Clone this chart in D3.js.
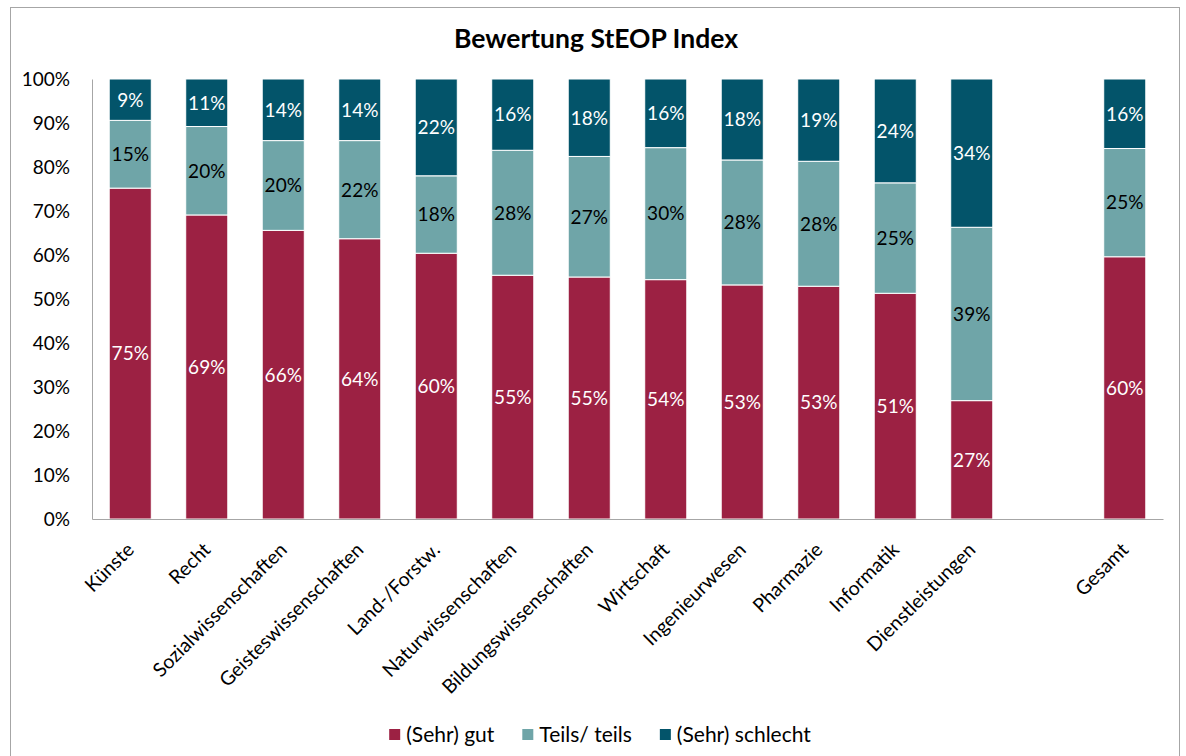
<!DOCTYPE html>
<html lang="de">
<head>
  <meta charset="UTF-8">
  <title>Bewertung StEOP Index</title>
  <script src="https://d3js.org/d3.v7.min.js"></script>
  <style>
    body {
      margin: 0;
      background: #fff;
    }
    svg text {
      font-family: Lato, "Open Sans", sans-serif;
    }
    .tick text {
      font-size: 19px;
      fill: #000;
    }
    .x-axis .tick text {
      font-size: 19.5px;
    }
    .seg-label {
      font-size: 19px;
      text-anchor: middle;
    }
    .legend-label {
      font-size: 21px;
      fill: #000;
    }
  </style>
</head>
<body>
  <svg width="1186" height="756"></svg>

  <script>
    // categories (one empty slot before "Gesamt" like in the original)
    const categories = ["Künste", "Recht", "Sozialwissenschaften", "Geisteswissenschaften",
      "Land-/Forstw.", "Naturwissenschaften", "Bildungswissenschaften", "Wirtschaft",
      "Ingenieurwesen", "Pharmazie", "Informatik", "Dienstleistungen", "Gesamt"];

    // shares in percent
    const gut      = [75.2, 69.1, 65.6, 63.7, 60.4, 55.4, 55.0, 54.4, 53.2, 52.9, 51.3, 26.9, 59.6];
    const teils    = [15.4, 20.1, 20.4, 22.3, 17.6, 28.4, 27.4, 30.0, 28.4, 28.4, 25.1, 39.4, 24.6];
    const schlecht = [ 9.4, 10.8, 14.0, 14.0, 22.0, 16.2, 17.6, 15.6, 18.4, 18.7, 23.6, 33.7, 15.8];

    const seriesNames = ["(Sehr) gut", "Teils/ teils", "(Sehr) schlecht"];
    const colors = ["#9c2143", "#6fa5a8", "#03546a"];
    const labelColors = ["#fff", "#000", "#fff"];
    const yTicks = [0, 10, 20, 30, 40, 50, 60, 70, 80, 90, 100];

    const svg = d3.select("svg");

    // chart frame
    svg.append("rect")
      .attr("x", 10.5).attr("y", 7.5)
      .attr("width", 1169).attr("height", 760)
      .attr("fill", "none")
      .attr("stroke", "#a6a6a6")
      .attr("stroke-width", 1);

    // title
    svg.append("text")
      .attr("x", 596).attr("y", 48)
      .attr("text-anchor", "middle")
      .attr("font-size", 26.5)
      .attr("font-weight", "bold")
      .text("Bewertung StEOP Index");

    const plotLeft = 92, plotRight = 1163, plotTop = 79, plotBottom = 519;

    // band domain with a blank slot between Dienstleistungen and Gesamt
    const domain = categories.slice(0, 12).concat([" ", "Gesamt"]);
    const x = d3.scaleBand()
      .domain(domain)
      .range([plotLeft, plotRight])
      .paddingInner(0.45)
      .paddingOuter(0.225);

    const y = d3.scaleLinear().domain([0, 100]).range([plotBottom, plotTop]);

    // y axis
    const yAxis = svg.append("g")
      .attr("transform", `translate(${plotLeft},0)`)
      .call(d3.axisLeft(y).tickValues(yTicks).tickSize(0).tickPadding(22).tickFormat(d => d + "%"));
    yAxis.select(".domain").attr("stroke", "#a6a6a6");

    // stacked data
    const rows = categories.map((c, i) => ({ cat: c, gut: gut[i], teils: teils[i], schlecht: schlecht[i] }));
    const stack = d3.stack().keys(["gut", "teils", "schlecht"]);
    const stacked = stack(rows);

    const layers = svg.selectAll(".layer")
      .data(stacked)
      .join("g")
      .attr("class", "layer")
      .attr("fill", (d, i) => colors[i]);

    layers.selectAll("rect")
      .data(d => d)
      .join("rect")
      .attr("x", d => x(d.data.cat))
      .attr("y", d => y(d[1]))
      .attr("width", x.bandwidth())
      .attr("height", d => y(d[0]) - y(d[1]))
      .attr("stroke", "#fff")
      .attr("stroke-width", 1);

    // labels in the segments
    layers.each(function (layer, li) {
      d3.select(this).selectAll("text")
        .data(layer)
        .join("text")
        .attr("class", "seg-label")
        .attr("fill", labelColors[li])
        .attr("x", d => x(d.data.cat) + x.bandwidth() / 2)
        .attr("y", d => (y(d[0]) + y(d[1])) / 2)
        .attr("dy", "0.36em")
        .text(d => Math.round(d[1] - d[0]) + "%");
    });

    // x axis
    const xAxis = svg.append("g")
      .attr("class", "x-axis")
      .attr("transform", `translate(0,${plotBottom})`)
      .call(d3.axisBottom(x).tickSize(0).tickFormat(d => d.trim()));
    xAxis.select(".domain").attr("stroke", "#a6a6a6");
    xAxis.selectAll(".tick text")
      .attr("text-anchor", "end")
      .attr("y", 0)
      .attr("dy", "0.36em")
      .attr("transform", "translate(0,27) rotate(-45)");

    // legend
    const legend = svg.append("g");
    let lx = 0;
    seriesNames.forEach((name, i) => {
      const g = legend.append("g").attr("transform", `translate(${lx},0)`);
      g.append("rect")
        .attr("x", 0).attr("y", -5)
        .attr("width", 11).attr("height", 11)
        .attr("fill", colors[i]);
      const t = g.append("text")
        .attr("class", "legend-label")
        .attr("x", 17).attr("dy", "0.36em")
        .text(name);
      lx += 17 + t.node().getComputedTextLength() + 28;
    });
    const legendWidth = lx - 28;
    legend.attr("transform", `translate(${600 - legendWidth / 2},734)`);
  </script>
</body>
</html>
